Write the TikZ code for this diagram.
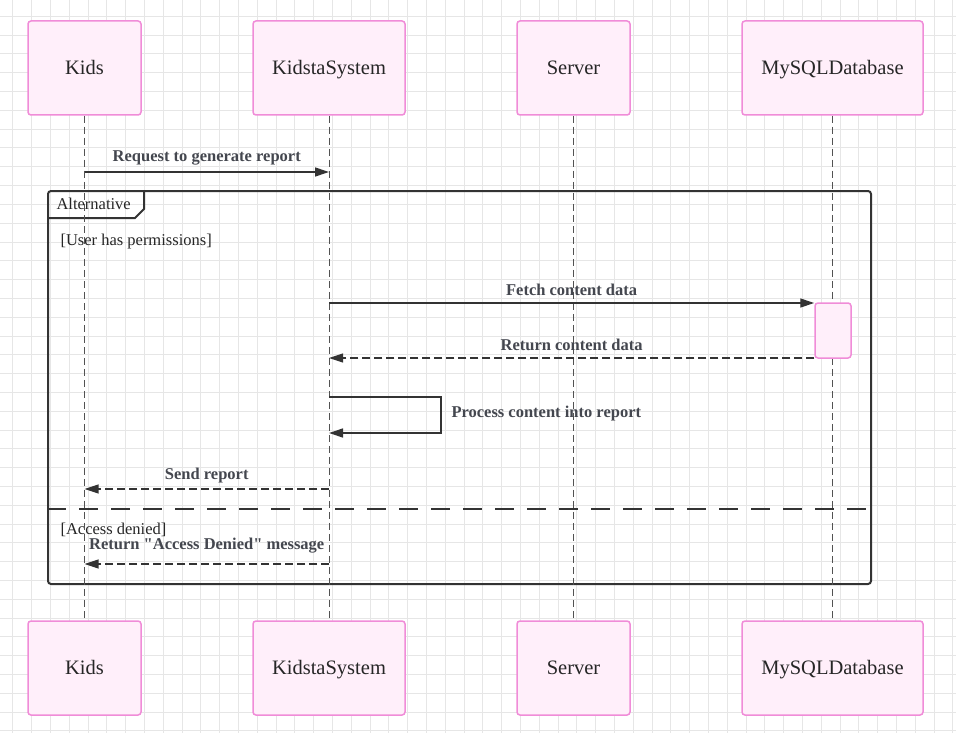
\documentclass[tikz,border=0pt]{standalone}
\usepackage{fontspec}
\setmainfont{Liberation Serif}
\usetikzlibrary{arrows.meta,positioning}

\definecolor{actorfill}{HTML}{FFEFFA}
\definecolor{actorline}{HTML}{F08CD8}
\definecolor{linecol}{HTML}{333333}
\definecolor{msgtext}{HTML}{44474F}
\definecolor{gridcol}{HTML}{E6E6E6}

\tikzset{
  actor/.style={draw=actorline, fill=actorfill, line width=1.5pt, rounded corners=3pt,
    minimum height=94pt, text height=17pt, text depth=4pt,
    font=\fontsize{20.5}{24}\selectfont, text=black!85},
  activation/.style={draw=actorline, fill=actorfill, line width=1.5pt, rounded corners=3pt,
    minimum width=36pt, minimum height=55pt},
  lifeline/.style={draw=linecol!85, line width=0.9pt, dash pattern=on 7pt off 4pt},
  msg/.style={draw=linecol, line width=1.3pt, -{Triangle[length=14pt,width=9pt]}},
  reply/.style={msg, line width=1.1pt, dash pattern=on 8pt off 4pt},
  msglabel/.style={font=\bfseries\fontsize{16.5}{19}\selectfont, text=msgtext},
  guard/.style={font=\fontsize{16.5}{19}\selectfont, text=black!85, anchor=west},
  altframe/.style={draw=linecol, line width=2pt, rounded corners=3pt, anchor=north west,
    minimum width=823pt, minimum height=393pt},
  separator/.style={draw=linecol, line width=2pt, dash pattern=on 19pt off 13pt},
  gridline/.style={draw=gridcol, line width=0.8pt}
}

\begin{document}
\begin{tikzpicture}[x=1pt, y=-1pt]
    \fill [white] (0,0) rectangle (956,733);
    \useasboundingbox (0,0) rectangle (956,733);

    % background grid
    \foreach \gx in {12.7,31.5,...,956} \draw [gridline] (\gx,0) -- (\gx,733);
    \foreach \gy in {16.3,35.1,...,733} \draw [gridline] (0,\gy) -- (956,\gy);

    % actors
    \node [actor, minimum width=113pt] (kidsTop) at (84.5,68) {Kids};
    \node [actor, minimum width=152pt] (sysTop) at (329,68) {KidstaSystem};
    \node [actor, minimum width=113pt] (serverTop) at (573.5,68) {Server};
    \node [actor, minimum width=181pt] (dbTop) at (832.5,68) {MySQLDatabase};

    \node [actor, minimum width=113pt] (kidsBot) at (84.5,668) {Kids};
    \node [actor, minimum width=152pt] (sysBot) at (329,668) {KidstaSystem};
    \node [actor, minimum width=113pt] (serverBot) at (573.5,668) {Server};
    \node [actor, minimum width=181pt] (dbBot) at (832.5,668) {MySQLDatabase};

    % alt frame
    \node [altframe] (alt) at (47,190) {};
    \draw [draw=linecol, line width=2pt] (alt.west |- 0,218) -- (135,218) -- (144,209) -- (144,191);
    \node [anchor=west, font=\fontsize{16.5}{19}\selectfont, text=black!85] (altLabel) at (53,204) {Alternative};
    \node [guard] (guardOk) at (57,241.5) {[User has permissions]};
    \draw [separator] (alt.west |- 0,509) -- (alt.east |- 0,509);
    \node [guard] (guardNo) at (57,530) {[Access denied]};

    % lifelines
    \draw [lifeline] (kidsTop) -- (kidsBot);
    \draw [lifeline] (sysTop) -- (sysBot);
    \draw [lifeline] (serverTop) -- (serverBot);
    \draw [lifeline] (dbTop) -- (dbBot);

    \node [activation] (dbAct) at (833,330.5) {};

    % messages
    \draw [msg] (kidsTop |- 0,172) -- node [msglabel, midway, yshift=14pt] {Request to generate report} (sysTop |- 0,172);
    \draw [msg] (sysTop |- 0,303) -- node [msglabel, midway, yshift=13.5pt] {Fetch content data} (dbAct.west |- 0,303);
    \draw [reply] (dbAct.west |- 0,358) -- node [msglabel, midway, yshift=13.5pt] {Return content data} (sysTop |- 0,358);
    \draw [msg] (sysTop |- 0,397) -- ++(112,0) -- ++(0,36) -- (sysTop |- 0,433);
    \node [msglabel, anchor=west] (procLabel) at (448,414) {Process content into report};
    \draw [reply] (sysTop |- 0,489) -- node [msglabel, midway, yshift=13.5pt] {Send report} (kidsTop |- 0,489);
    \draw [reply] (sysTop |- 0,564) -- node [msglabel, midway, yshift=18pt] {Return \textquotedbl Access Denied\textquotedbl\ message} (kidsTop |- 0,564);
\end{tikzpicture}
\end{document}
